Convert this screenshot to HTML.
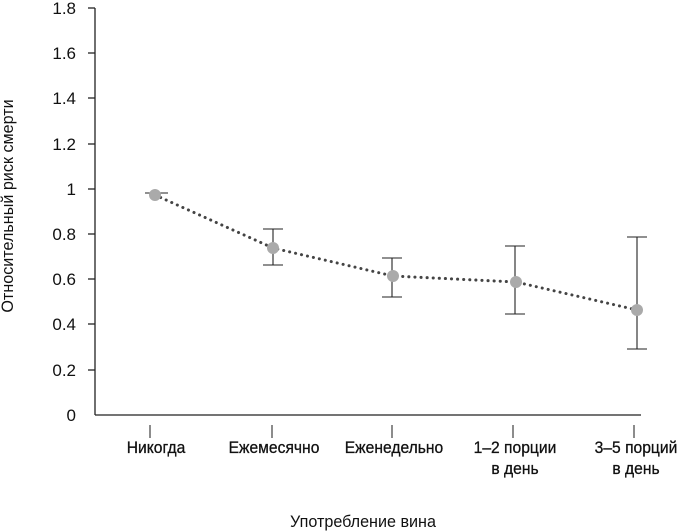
<!DOCTYPE html><html><head><meta charset="utf-8"><style>body{margin:0;background:#fff}svg{display:block}text{font-family:"Liberation Sans",sans-serif;fill:#111}</style></head><body>
<svg width="686" height="532" viewBox="0 0 686 532">
<g stroke="#222" stroke-width="1.3" fill="none">
<line x1="95" y1="8" x2="95" y2="415"/><line x1="95" y1="415" x2="641" y2="415"/>
<line x1="88" y1="8" x2="95" y2="8"/><line x1="88" y1="53" x2="95" y2="53"/><line x1="88" y1="98" x2="95" y2="98"/><line x1="88" y1="144" x2="95" y2="144"/><line x1="88" y1="189" x2="95" y2="189"/><line x1="88" y1="234" x2="95" y2="234"/><line x1="88" y1="279" x2="95" y2="279"/><line x1="88" y1="324" x2="95" y2="324"/><line x1="88" y1="370" x2="95" y2="370"/>
</g>
<g stroke="#666" stroke-width="1.5"><line x1="150" y1="425" x2="150" y2="438"/><line x1="272" y1="425" x2="272" y2="438"/><line x1="392" y1="425" x2="392" y2="438"/><line x1="513" y1="425" x2="513" y2="438"/><line x1="634" y1="425" x2="634" y2="438"/></g>
<g font-size="17" text-anchor="end"><text x="76" y="14">1.8</text><text x="76" y="59">1.6</text><text x="76" y="104">1.4</text><text x="76" y="150">1.2</text><text x="76" y="195">1</text><text x="76" y="240">0.8</text><text x="76" y="285">0.6</text><text x="76" y="330">0.4</text><text x="76" y="376">0.2</text><text x="76" y="421">0</text></g>
<g stroke="#222" stroke-width="1.1">
<line x1="145" y1="193" x2="168" y2="193"/>
<line x1="273" y1="229" x2="273" y2="265"/><line x1="263" y1="229" x2="283" y2="229"/><line x1="263" y1="265" x2="283" y2="265"/>
<line x1="392" y1="258" x2="392" y2="297"/><line x1="382" y1="258" x2="402" y2="258"/><line x1="382" y1="297" x2="402" y2="297"/>
<line x1="515" y1="246" x2="515" y2="314"/><line x1="505" y1="246" x2="525" y2="246"/><line x1="505" y1="314" x2="525" y2="314"/>
<line x1="637" y1="237" x2="637" y2="349"/><line x1="627" y1="237" x2="647" y2="237"/><line x1="627" y1="349" x2="647" y2="349"/>
</g>
<polyline points="155,195 273,248 393,276 516,282 637,310" fill="none" stroke="#444" stroke-width="3" stroke-dasharray="0.1 6" stroke-linecap="round"/>
<g fill="#aaa"><circle cx="155" cy="195" r="6"/><circle cx="273" cy="248" r="6"/><circle cx="393" cy="276" r="6"/><circle cx="516" cy="282" r="6"/><circle cx="637" cy="310" r="6"/></g>
<g font-size="17" text-anchor="middle" stroke="#111" stroke-width="0.3"><text x="156" y="453" transform="translate(156 0) scale(0.92 1) translate(-156 0)">Никогда</text><text x="274" y="453" transform="translate(274 0) scale(0.92 1) translate(-274 0)">Ежемесячно</text><text x="394" y="453" transform="translate(394 0) scale(0.92 1) translate(-394 0)">Еженедельно</text><text x="515" y="453" transform="translate(515 0) scale(0.92 1) translate(-515 0)">1–2 порции</text><text x="515" y="474" transform="translate(515 0) scale(0.92 1) translate(-515 0)">в день</text><text x="636" y="453" transform="translate(636 0) scale(0.92 1) translate(-636 0)">3–5 порций</text><text x="636" y="474" transform="translate(636 0) scale(0.92 1) translate(-636 0)">в день</text></g>
<text font-size="17" x="363" y="527" fill="#333" text-anchor="middle" transform="translate(363 0) scale(0.95 1) translate(-363 0)">Употребление вина</text>
<text font-size="17" fill="#333" text-anchor="middle" transform="translate(13 206) rotate(-90) scale(0.95 1)">Относительный риск смерти</text>
</svg></body></html>
